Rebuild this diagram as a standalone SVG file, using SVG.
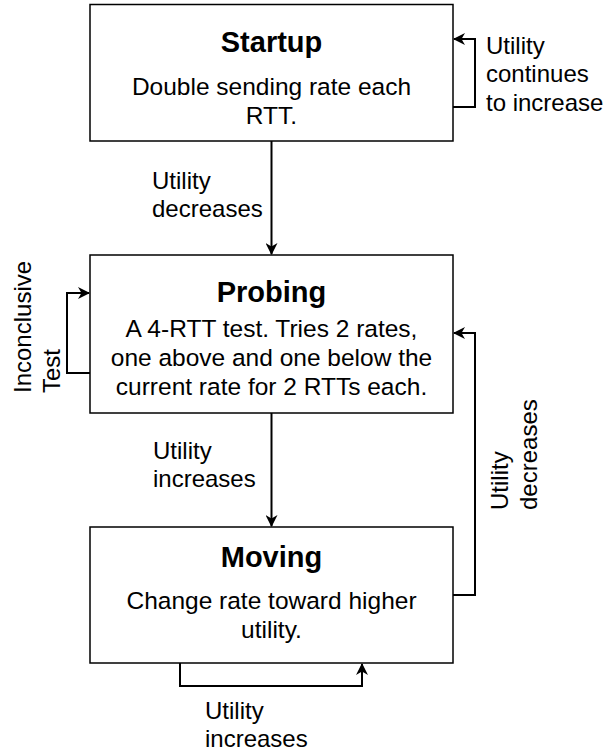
<svg xmlns="http://www.w3.org/2000/svg" width="610" height="753" viewBox="0 0 610 753">
<style>
.box{fill:#fff;stroke:#000;stroke-width:1.5}
.title{font-family:"Liberation Sans",Arial,Helvetica,sans-serif;font-weight:bold;font-size:29px;text-anchor:middle;fill:#000}
.body{font-family:"Liberation Sans",Arial,Helvetica,sans-serif;font-size:24.5px;text-anchor:middle;fill:#000}
.lbl{font-family:"Liberation Sans",Arial,Helvetica,sans-serif;font-size:24px;fill:#000}
.edge{fill:none;stroke:#000;stroke-width:2;marker-end:url(#arr)}
.plain{fill:none;stroke:#000;stroke-width:2}
</style>
<defs>
<marker id="arr" viewBox="0 0 12 12" refX="11" refY="6" markerWidth="12" markerHeight="12" markerUnits="userSpaceOnUse" orient="auto">
<path d="M0,0 L12,6 L0,12 L3.5,6 z" fill="#000"/>
</marker>
</defs>
<rect width="610" height="753" fill="#fff"/>
<g id="connectors">
<path class="edge" d="M271.5,141 V254"/>
<path class="edge" d="M271.5,413 V526"/>
<path class="edge" d="M453,107 H475 V39 H454"/>
<path class="edge" d="M90,373 H67 V293 H89"/>
<path class="edge" d="M453,595 H475 V333 H454"/>
<path class="edge" d="M180,663 V686 H362 V664"/>
</g>
<g id="startup">
<rect class="box" x="90" y="4.5" width="363" height="136.5"/>
<text class="title" x="271.5" y="52">Startup</text>
<text class="body" x="271.5" y="95">Double sending rate each</text>
<text class="body" x="271.5" y="124">RTT.</text>
</g>
<g id="probing">
<rect class="box" x="90" y="255" width="363" height="158"/>
<text class="title" x="271.5" y="302">Probing</text>
<text class="body" x="271.5" y="337">A 4-RTT test. Tries 2 rates,</text>
<text class="body" x="271.5" y="366">one above and one below the</text>
<text class="body" x="271.5" y="395">current rate for 2 RTTs each.</text>
</g>
<g id="moving">
<rect class="box" x="90" y="527" width="363" height="136"/>
<text class="title" x="271.5" y="567">Moving</text>
<text class="body" x="271.5" y="609">Change rate toward higher</text>
<text class="body" x="271.5" y="638">utility.</text>
</g>
<g id="labels">
<text class="lbl" x="486" y="54">Utility</text>
<text class="lbl" x="486" y="82">continues</text>
<text class="lbl" x="486" y="111">to increase</text>
<text class="lbl" x="152" y="189">Utility</text>
<text class="lbl" x="152" y="217">decreases</text>
<text class="lbl" x="153" y="459">Utility</text>
<text class="lbl" x="153" y="487">increases</text>
<text class="lbl" x="205" y="719">Utility</text>
<text class="lbl" x="205" y="747">increases</text>
<text class="lbl" transform="rotate(-90)" x="-393" y="31">Inconclusive</text>
<text class="lbl" transform="rotate(-90)" x="-393" y="60">Test</text>
<text class="lbl" transform="rotate(-90)" x="-510" y="508">Utility</text>
<text class="lbl" transform="rotate(-90)" x="-510" y="537">decreases</text>
</g>
</svg>
